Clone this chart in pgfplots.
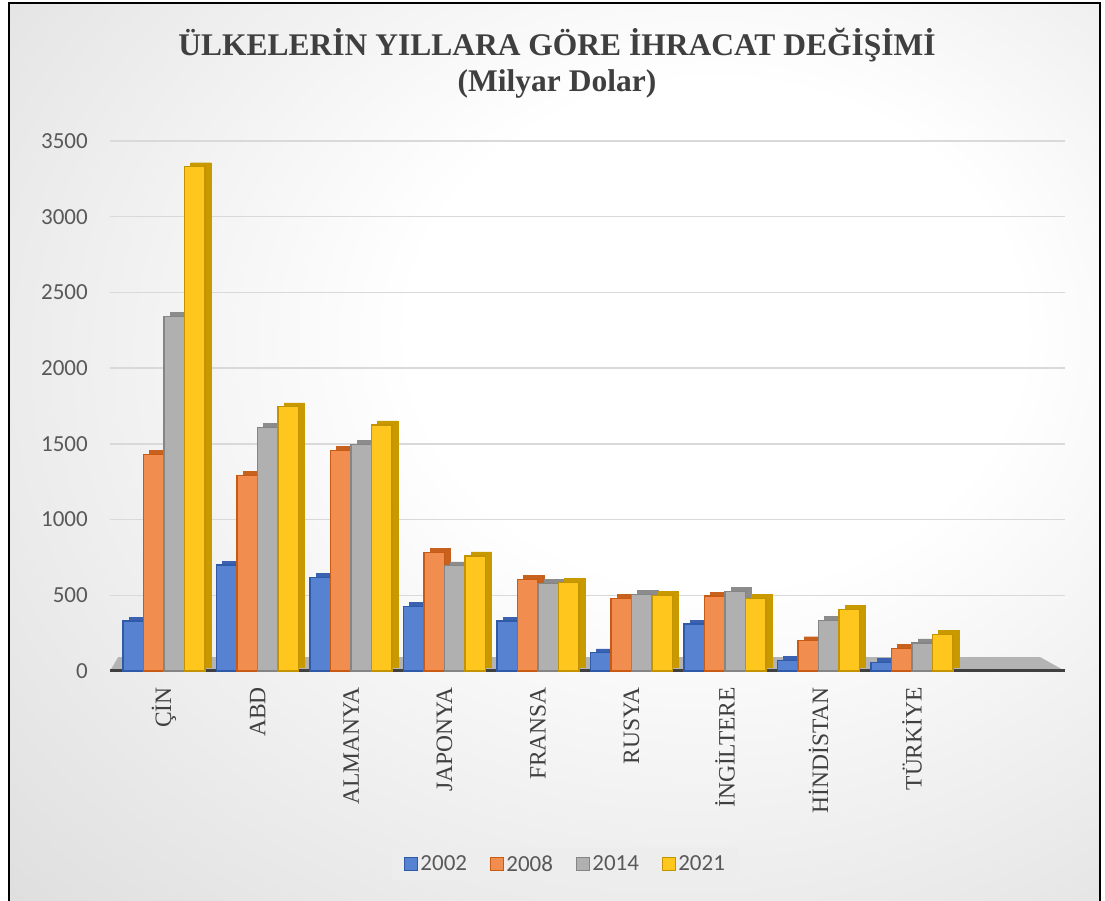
\documentclass[border=0pt]{standalone}
\usepackage{pgfplots}
\usepackage{pgfplotstable}
\pgfplotsset{compat=1.18}
\usepackage{fontspec}
\setmainfont{Liberation Serif}
\newfontfamily\carlito{Carlito}

\definecolor{bAf}{HTML}{5782D2}\definecolor{bAe}{HTML}{2E5AA8}\definecolor{bAs}{HTML}{3A62B0}
\definecolor{bBf}{HTML}{F08D4F}\definecolor{bBe}{HTML}{C95A14}\definecolor{bBs}{HTML}{C8601E}
\definecolor{bCf}{HTML}{B0B0B0}\definecolor{bCe}{HTML}{858585}\definecolor{bCs}{HTML}{8C8C8C}
\definecolor{bDf}{HTML}{FFC61E}\definecolor{bDe}{HTML}{C49400}\definecolor{bDs}{HTML}{C89A00}
\definecolor{titlec}{HTML}{3F3F3F}
\definecolor{tickc}{HTML}{595959}
\definecolor{labelc}{HTML}{404040}
\definecolor{gridc}{HTML}{D9D9D9}
\definecolor{floorc}{HTML}{B4B4B4}
\definecolor{axc}{HTML}{404040}
\definecolor{legc}{HTML}{EDEDED}

\pgfdeclareradialshading{bgshade}{\pgfpoint{9bp}{8bp}}{color(0bp)=(white); color(14bp)=(white); color(55bp)=(black!19); color(80bp)=(black!26)}

\pgfplotstableread{
x y2002 y2008 y2014 y2021
0 330 1430 2340 3330
1 700 1290 1610 1745
2 620 1455 1495 1625
3 425 785 695 760
4 330 605 580 585
5 120 480 505 500
6 310 495 525 478
7 70 200 335 405
8 55 150 185 240
}\datatable

\pgfplotsset{ybar legend/.style={/pgfplots/legend image code/.code={\draw[##1, line width=1.3pt] (0pt,-6.5pt) rectangle (13pt,6.5pt);}}}

\begin{document}
\begin{tikzpicture}[x=1pt,y=1pt]
\useasboundingbox (0,0) rectangle (1105,900);
\fill[white] (0,0) rectangle (1105,900);
\shade[shading=bgshade] (9,0) rectangle (1100,897);
\draw[black, line width=1.6pt] (9,-5) -- (9,897) -- (1100,897) -- (1100,-5);
\node[anchor=base, font=\fontsize{31.5}{36}\selectfont\bfseries, text=titlec, inner sep=0pt] at (557,844) {ÜLKELERİN YILLARA GÖRE İHRACAT DEĞİŞİMİ};
\node[anchor=base, font=\fontsize{31.5}{36}\selectfont\bfseries, text=titlec, inner sep=0pt] at (557,808) {(Milyar Dolar)};
\begin{axis}[
  at={(110pt,229pt)}, anchor=south west,
  width=955pt, height=530pt, scale only axis,
  xmin=-0.578, xmax=9.636, ymin=0, ymax=3500,
  ybar=0pt, bar width=20.5pt,
  xtick={0,...,8},
  xticklabels={ÇİN,ABD,ALMANYA,JAPONYA,FRANSA,RUSYA,İNGİLTERE,HİNDİSTAN,TÜRKİYE},
  ytick={0,500,...,3500},
  ymajorgrids, grid style={line width=1.5pt, color=gridc},
  axis line style={draw=none}, major tick length=0pt,
  /pgf/number format/assume math mode=true,
  /pgf/number format/1000 sep={},
  yticklabel style={font=\carlito\fontsize{23}{28}\selectfont, text=tickc, anchor=east, inner sep=0pt},
  yticklabel shift=22pt,
  xticklabel style={rotate=90, anchor=east, inner sep=0pt, font=\fontsize{23.5}{28}\selectfont, text=labelc},
  xticklabel shift=16pt,
  legend columns=4,
  legend style={at={(0.477,-0.364)}, anchor=center, draw=none, fill=legc,
    font=\carlito\fontsize{23}{28}\selectfont, text=tickc, inner xsep=12pt, inner ysep=5pt},
]
\fill[floorc] (axis cs:-0.578,0) -- (axis cs:9.636,0) -- (axis cs:9.37,92) -- (axis cs:-0.49,92) -- cycle;
\draw[axc, line width=4pt] (axis cs:-0.578,0) -- (axis cs:9.636,0);
% depth faces
\addplot[forget plot, fill=bAs, draw=bAs, bar shift=-30.75pt, xshift=6pt, yshift=4pt] table[x=x,y=y2002]{\datatable};
\addplot[forget plot, fill=bBs, draw=bBs, bar shift=-10.25pt, xshift=6pt, yshift=4pt] table[x=x,y=y2008]{\datatable};
\addplot[forget plot, fill=bCs, draw=bCs, bar shift=10.25pt, xshift=6pt, yshift=4pt] table[x=x,y=y2014]{\datatable};
\addplot[forget plot, fill=bDs, draw=bDs, bar shift=30.75pt, xshift=6pt, yshift=4pt] table[x=x,y=y2021]{\datatable};
% front faces
\addplot[fill=bAf, draw=bAe, line width=1.2pt, bar shift=-30.75pt] table[x=x,y=y2002]{\datatable};
\addplot[fill=bBf, draw=bBe, line width=1.2pt, bar shift=-10.25pt] table[x=x,y=y2008]{\datatable};
\addplot[fill=bCf, draw=bCe, line width=1.2pt, bar shift=10.25pt] table[x=x,y=y2014]{\datatable};
\addplot[fill=bDf, draw=bDe, line width=1.2pt, bar shift=30.75pt] table[x=x,y=y2021]{\datatable};
\legend{2002\hspace*{21pt},2008\hspace*{21pt},2014\hspace*{21pt},2021}
\end{axis}
\end{tikzpicture}
\end{document}
